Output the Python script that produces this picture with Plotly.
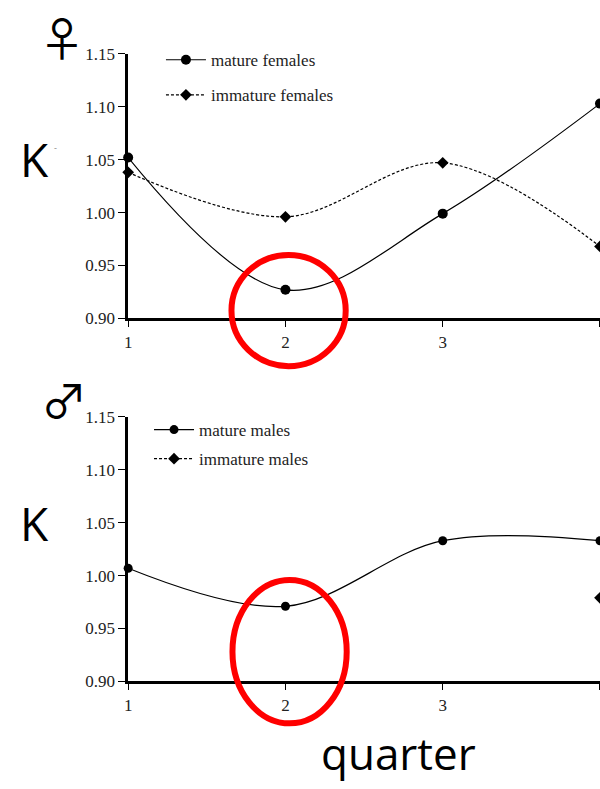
import plotly.graph_objects as go

W, H = 600, 789

quarters = [1, 2, 3, 4]
mature_females = [1.052, 0.927, 0.999, 1.103]
immature_females = [1.038, 0.996, 1.047, 0.968]
mature_males = [1.007, 0.971, 1.033, 1.033]
immature_males = [None, None, None, 0.979]

y_ticks = [0.90, 0.95, 1.00, 1.05, 1.10, 1.15]

def px(x):
    return x / W

def py(y):
    return 1 - y / H

fig = go.Figure()

line_common = dict(shape="spline", smoothing=1.0, color="black", width=1.2)

fig.add_trace(go.Scatter(x=quarters, y=mature_females, name="mature females",
                         mode="lines+markers", line=dict(**line_common),
                         marker=dict(symbol="circle", size=10, color="black"),
                         xaxis="x", yaxis="y", legend="legend", legendgroup="a",
                         cliponaxis=False))
fig.add_trace(go.Scatter(x=quarters, y=immature_females, name="immature females",
                         mode="lines+markers", line=dict(**line_common, dash="3px,2px"),
                         marker=dict(symbol="diamond", size=9, color="black"),
                         xaxis="x", yaxis="y", legend="legend", legendgroup="b",
                         cliponaxis=False))
fig.add_trace(go.Scatter(x=quarters, y=mature_males, name="mature males",
                         mode="lines+markers", line=dict(**line_common),
                         marker=dict(symbol="circle", size=9, color="black"),
                         xaxis="x2", yaxis="y2", legend="legend2", legendgroup="c",
                         cliponaxis=False))
fig.add_trace(go.Scatter(x=quarters, y=immature_males, name="immature males",
                         mode="lines+markers", line=dict(**line_common, dash="3px,2px"),
                         marker=dict(symbol="diamond", size=9, color="black"),
                         xaxis="x2", yaxis="y2", legend="legend2", legendgroup="d",
                         cliponaxis=False))

tickfont = dict(family="Liberation Serif", size=17, color="#222")

xax = dict(range=[1, 4], tickvals=quarters, ticktext=[str(q) for q in quarters],
           showline=True, linecolor="black", linewidth=3, showgrid=False, zeroline=False,
           ticks="outside", ticklen=6, tickwidth=1.2, tickcolor="black",
           tickfont=tickfont, domain=[px(125), 1])
# overlay axes: inside ticks so the x ticks cross the axis line
xax_in = dict(range=[1, 4], tickvals=quarters, showline=False, showgrid=False,
              zeroline=False, ticks="inside", ticklen=6, tickwidth=1.2,
              tickcolor="black", showticklabels=False, domain=[px(125), 1])
yax = dict(range=[0.90, 1.15], tickvals=y_ticks, tickformat=".2f",
           showline=True, linecolor="black", linewidth=2.5, showgrid=False, zeroline=False,
           ticks="outside", ticklen=7, tickwidth=1.2, tickcolor="black",
           tickfont=tickfont)

legend_common = dict(font=dict(family="Liberation Serif", size=17, color="#222"),
                     bgcolor="rgba(0,0,0,0)", xanchor="left", yanchor="top",
                     traceorder="grouped", itemwidth=40)

fig.update_layout(
    width=W, height=H,
    margin=dict(l=0, r=0, t=0, b=0),
    paper_bgcolor="white", plot_bgcolor="white",
    xaxis=dict(**xax, anchor="y"),
    yaxis=dict(**yax, domain=[py(317), py(46)], anchor="x"),
    xaxis2=dict(**xax, anchor="y2"),
    yaxis2=dict(**yax, domain=[py(689), py(418)], anchor="x2"),
    xaxis3=dict(**xax_in, anchor="y", overlaying="x"),
    xaxis4=dict(**xax_in, anchor="y2", overlaying="x2"),
    legend=dict(**legend_common, x=px(158), y=py(34), tracegroupgap=10),
    legend2=dict(**legend_common, x=px(146), y=py(413), tracegroupgap=4),
    showlegend=True,
)

sym_font = "DejaVu Sans ExtraLight, Noto Sans CJK JP"
annotations = [
    dict(text="♀", x=px(58), y=py(28), font=dict(family=sym_font, size=46, color="black")),
    dict(text="♂", x=px(60), y=py(399), font=dict(family=sym_font, size=46, color="black")),
    dict(text="K", x=px(31), y=py(154), font=dict(family="Open Sans", size=46, color="black")),
    dict(text="-", x=px(52), y=py(142), font=dict(family="Open Sans", size=9, color="#888")),
    dict(text="K", x=px(31), y=py(527), font=dict(family="Open Sans", size=46, color="black")),
    dict(text="quarter", x=px(397), y=py(762), font=dict(family="Open Sans", size=44, color="black")),
]
for a in annotations:
    fig.add_annotation(xref="paper", yref="paper", showarrow=False,
                       xanchor="center", yanchor="middle", **a)

ellipse_style = dict(type="circle", xref="paper", yref="paper",
                     line=dict(color="#ff0000", width=6), fillcolor="rgba(0,0,0,0)")
fig.add_shape(x0=px(229), x1=px(344), y0=py(366), y1=py(252), **ellipse_style)
fig.add_shape(x0=px(230), x1=px(345), y0=py(732), y1=py(585), **ellipse_style)

fig.write_html("out.html")
